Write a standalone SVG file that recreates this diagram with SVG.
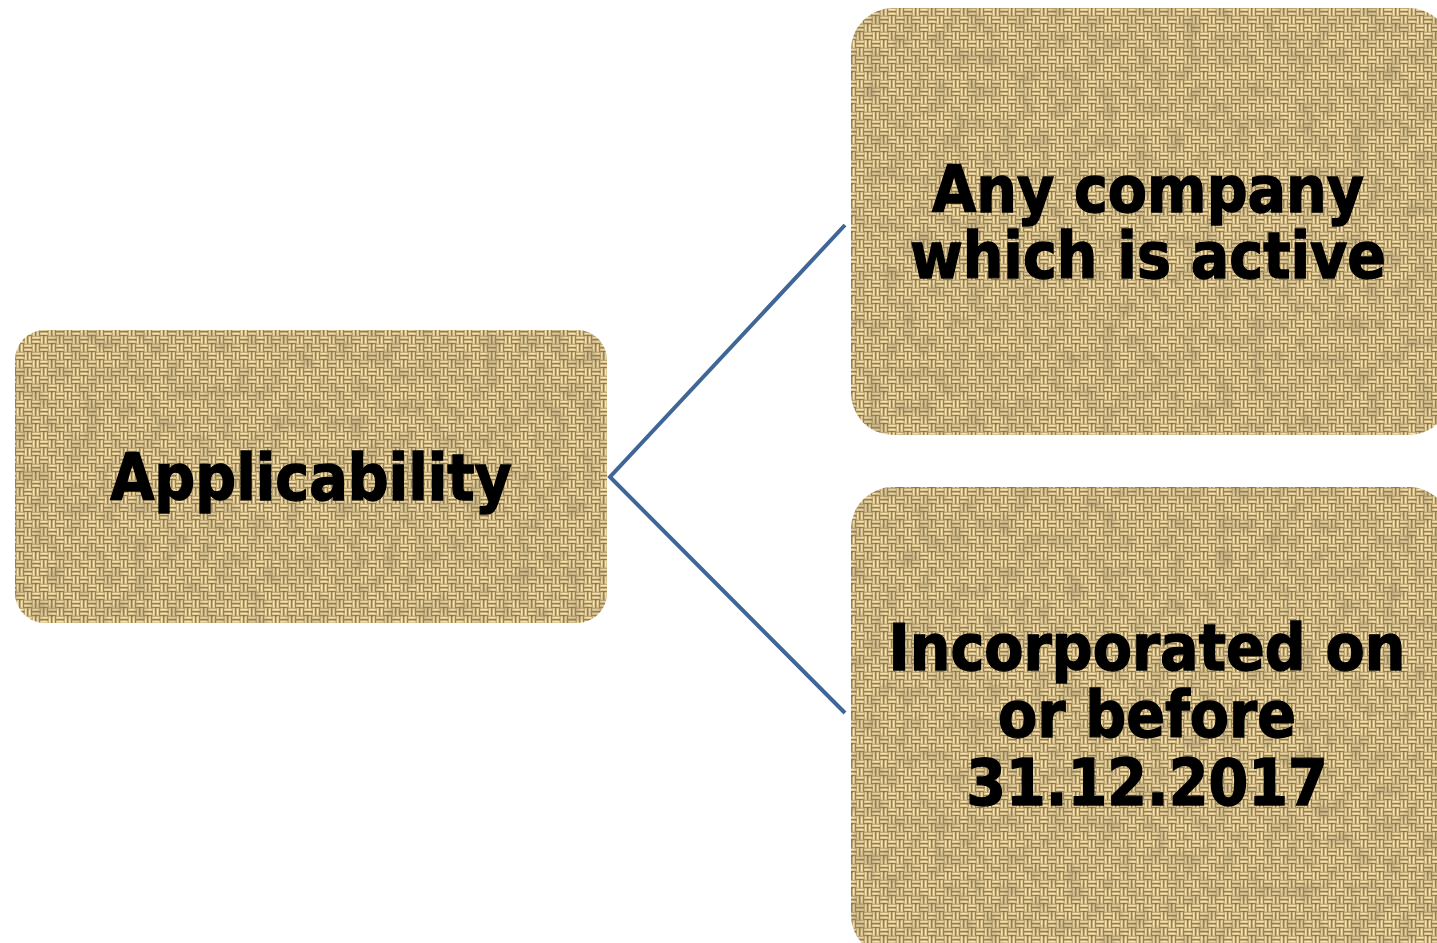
<svg xmlns="http://www.w3.org/2000/svg" width="1437" height="943" viewBox="0 0 1437 943">
  <style>
    .label { font-family: "DejaVu Sans Condensed", "DejaVu Sans", "Liberation Sans", sans-serif; font-weight: bold; font-size: 63.5px; fill: #000; stroke: #000; stroke-width: 1.3; text-anchor: middle; }
    .link { fill: none; stroke: #3f6696; stroke-width: 4; }
    .cloth { fill: url(#weave); }
    .grain { fill: #000; filter: url(#mottle); }
  </style>
  <defs>
    <!-- basket-weave burlap tile -->
    <pattern id="weave" width="16" height="16" patternUnits="userSpaceOnUse">
      <rect width="16" height="16" fill="#98804f"/>
      <g fill="#dcc590">
        <rect x="0" y="0.4" width="8" height="2.6"/>
        <rect x="0" y="4.4" width="8" height="2.6"/>
        <rect x="8.4" y="0" width="2.6" height="8"/>
        <rect x="12.4" y="0" width="2.6" height="8"/>
        <rect x="0.4" y="8" width="2.6" height="8"/>
        <rect x="4.4" y="8" width="2.6" height="8"/>
        <rect x="8" y="8.4" width="8" height="2.6"/>
        <rect x="8" y="12.4" width="8" height="2.6"/>
      </g>
      <g fill="#f6eac4">
        <rect x="1" y="1.1" width="6" height="1"/>
        <rect x="1" y="5.1" width="6" height="1"/>
        <rect x="9.1" y="1" width="1" height="6"/>
        <rect x="13.1" y="1" width="1" height="6"/>
        <rect x="1.1" y="9" width="1" height="6"/>
        <rect x="5.1" y="9" width="1" height="6"/>
        <rect x="9" y="9.1" width="6" height="1"/>
        <rect x="9" y="13.1" width="6" height="1"/>
      </g>
      <g fill="#5a4525" opacity="0.75">
        <rect x="7.4" y="3.2" width="1.2" height="1.2"/>
        <rect x="15.4" y="11.2" width="1.2" height="1.2"/>
        <rect x="3.2" y="7.4" width="1.2" height="1.2"/>
        <rect x="11.2" y="15.4" width="1.2" height="1.2"/>
      </g>
    </pattern>
    <!-- soft mottling over the cloth, kept inside the shape -->
    <filter id="mottle" x="0" y="0" width="100%" height="100%">
      <feTurbulence type="fractalNoise" baseFrequency="0.06" numOctaves="3" seed="7" result="n"/>
      <feColorMatrix in="n" type="matrix" values="0 0 0 0 0.3  0 0 0 0 0.23  0 0 0 0 0.12  0 0 0 -2.2 1.3" result="c"/>
      <feComposite in="c" in2="SourceGraphic" operator="in"/>
    </filter>
  </defs>

  <rect width="1437" height="943" fill="#ffffff"/>

  <g id="connectors">
    <polyline class="link" points="845,225 610,477 845,713"/>
  </g>

  <g id="node-applicability">
    <rect class="cloth" x="15" y="330" width="592" height="293" rx="30"/>
    <rect class="grain" x="15" y="330" width="592" height="293" rx="30" opacity="0.4"/>
    <text class="label" x="311" y="500">Applicability</text>
  </g>

  <g id="node-active">
    <rect class="cloth" x="851" y="8" width="600" height="427" rx="42"/>
    <rect class="grain" x="851" y="8" width="600" height="427" rx="42" opacity="0.4"/>
    <text class="label" x="1148" y="212">Any company</text>
    <text class="label" x="1148" y="278">which is active</text>
  </g>

  <g id="node-incorporated">
    <rect class="cloth" x="851" y="487" width="600" height="470" rx="42"/>
    <rect class="grain" x="851" y="487" width="600" height="470" rx="42" opacity="0.4"/>
    <text class="label" x="1147" y="670">Incorporated on</text>
    <text class="label" x="1147" y="737">or before</text>
    <text class="label" x="1147" y="805">31.12.2017</text>
  </g>
</svg>
